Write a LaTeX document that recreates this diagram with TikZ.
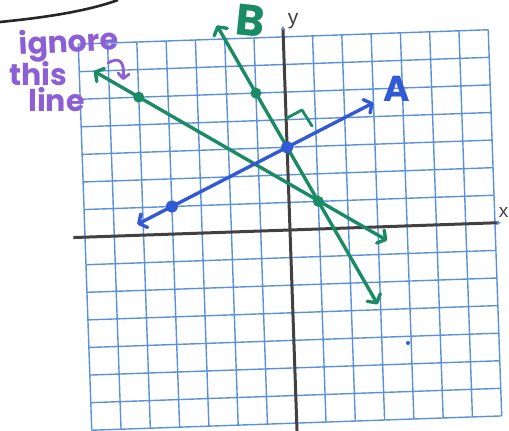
\documentclass[tikz,border=0pt]{standalone}
\usepackage{fontspec}
\setmainfont{Liberation Sans}
\newfontfamily\hand{Poppins}
\usetikzlibrary{arrows.meta}
\definecolor{gridblue}{RGB}{90,145,220}
\definecolor{penblue}{RGB}{50,90,215}
\definecolor{pengreen}{RGB}{25,140,100}
\definecolor{penpurple}{RGB}{140,95,215}
\definecolor{axisgray}{RGB}{65,65,65}
\tikzset{
  gridline/.style={gridblue, line width=1.4pt},
  axisline/.style={axisgray, line width=3pt, -{Triangle[length=4pt,width=4.5pt,color=gridblue]}},
  greenline/.style={pengreen, line width=3.4pt, line cap=round, {Straight Barb[length=6pt,width=15pt,round]}-{Straight Barb[length=6pt,width=15pt,round]}},
  blueline/.style={penblue, line width=3.4pt, line cap=round, {Straight Barb[length=6pt,width=15pt,round]}-{Straight Barb[length=6pt,width=15pt,round]}},
  gdot/.style={circle, fill=pengreen, inner sep=0pt, minimum size=11pt},
  bdot/.style={circle, fill=penblue, inner sep=0pt, minimum size=12pt},
  handtext/.style={penpurple, font=\hand\bfseries\fontsize{30}{30}\selectfont, anchor=base west, inner sep=0pt},
}
\begin{document}
\begin{tikzpicture}[x=1pt,y=1pt]
\useasboundingbox (0,0) rectangle (509,431);
\clip (0,0) rectangle (509,431);
\fill[white] (0,0) rectangle (509,431);

% black curve at top left
\coordinate (c1) at (0,409);
\coordinate (c2) at (118,431);
\draw[black!85, line width=2.6pt] (c1) .. controls (40,413) and (85,419) .. (c2);

\begin{scope}[shift={(290,201)}, rotate=2, x=29.3pt, y=27.6pt]
  \draw[gridline, step=1] (-7,-7) grid (7,7);
  \coordinate (xl) at (-7.4,0);
  \coordinate (xr) at (7.2,0);
  \coordinate (yb) at (0,-7.6);
  \coordinate (yt) at (0,7.4);
  \draw[axisline] (xl) -- (xr);
  \draw[axisline] (yb) -- (yt);

  % line endpoints
  \coordinate (igL) at (-6.5,6.0);
  \coordinate (igR) at (3.3,-0.5);
  \coordinate (bT) at (-2.25,7.5);
  \coordinate (bB) at (2.9,-2.8);
  \coordinate (aL) at (-5.2,0.4);
  \coordinate (aR) at (3.0,4.5);

  \draw[greenline] (igL) -- (igR);
  \draw[greenline] (bT) -- (bB);
  \draw[blueline] (aL) -- (aR);

  \node[gdot] (g1) at (-5,5) {};
  \node[gdot] (g2) at (-1,5) {};
  \node[gdot] (g3) at (1,1) {};
  \node[bdot] (b1) at (-4,1) {};
  \node[bdot] (b2) at (0,3) {};
\end{scope}

% right-angle mark
\coordinate (r1) at (287,313);
\coordinate (r2) at (302,321);
\coordinate (r3) at (312,305);
\draw[pengreen, line width=2.8pt, line cap=round, line join=round] (r1) -- (r2) -- (r3);

% labels
\node[pengreen, font=\hand\bfseries\fontsize{44}{44}\selectfont, rotate=-6, inner sep=0pt] (labB) at (251,410) {B};
\node[penblue, font=\hand\bfseries\fontsize{36}{36}\selectfont, inner sep=0pt] (labA) at (397,342) {A};
\node[axisgray, font=\fontsize{21}{21}\selectfont, inner sep=0pt] (laby) at (293,410) {y};
\node[axisgray, font=\fontsize{19}{19}\selectfont, anchor=base east, inner sep=0pt] (labx) at (508.5,213) {x};

% purple note
\node[handtext, rotate=3] (t1) at (19,376) {ignore};
\node[handtext] (t2) at (9,345) {this};
\node[handtext] (t3) at (28,319) {line};
\coordinate (p1) at (108,368);
\coordinate (p2) at (123,351);
\draw[penpurple, line width=2.8pt, line cap=round, -{Straight Barb[length=5pt,width=11pt,round]}] (p1) .. controls (118,374) and (125,371) .. (p2);

% stray blue mark
\fill[penblue] (408,88) circle (2pt);
\end{tikzpicture}
\end{document}
